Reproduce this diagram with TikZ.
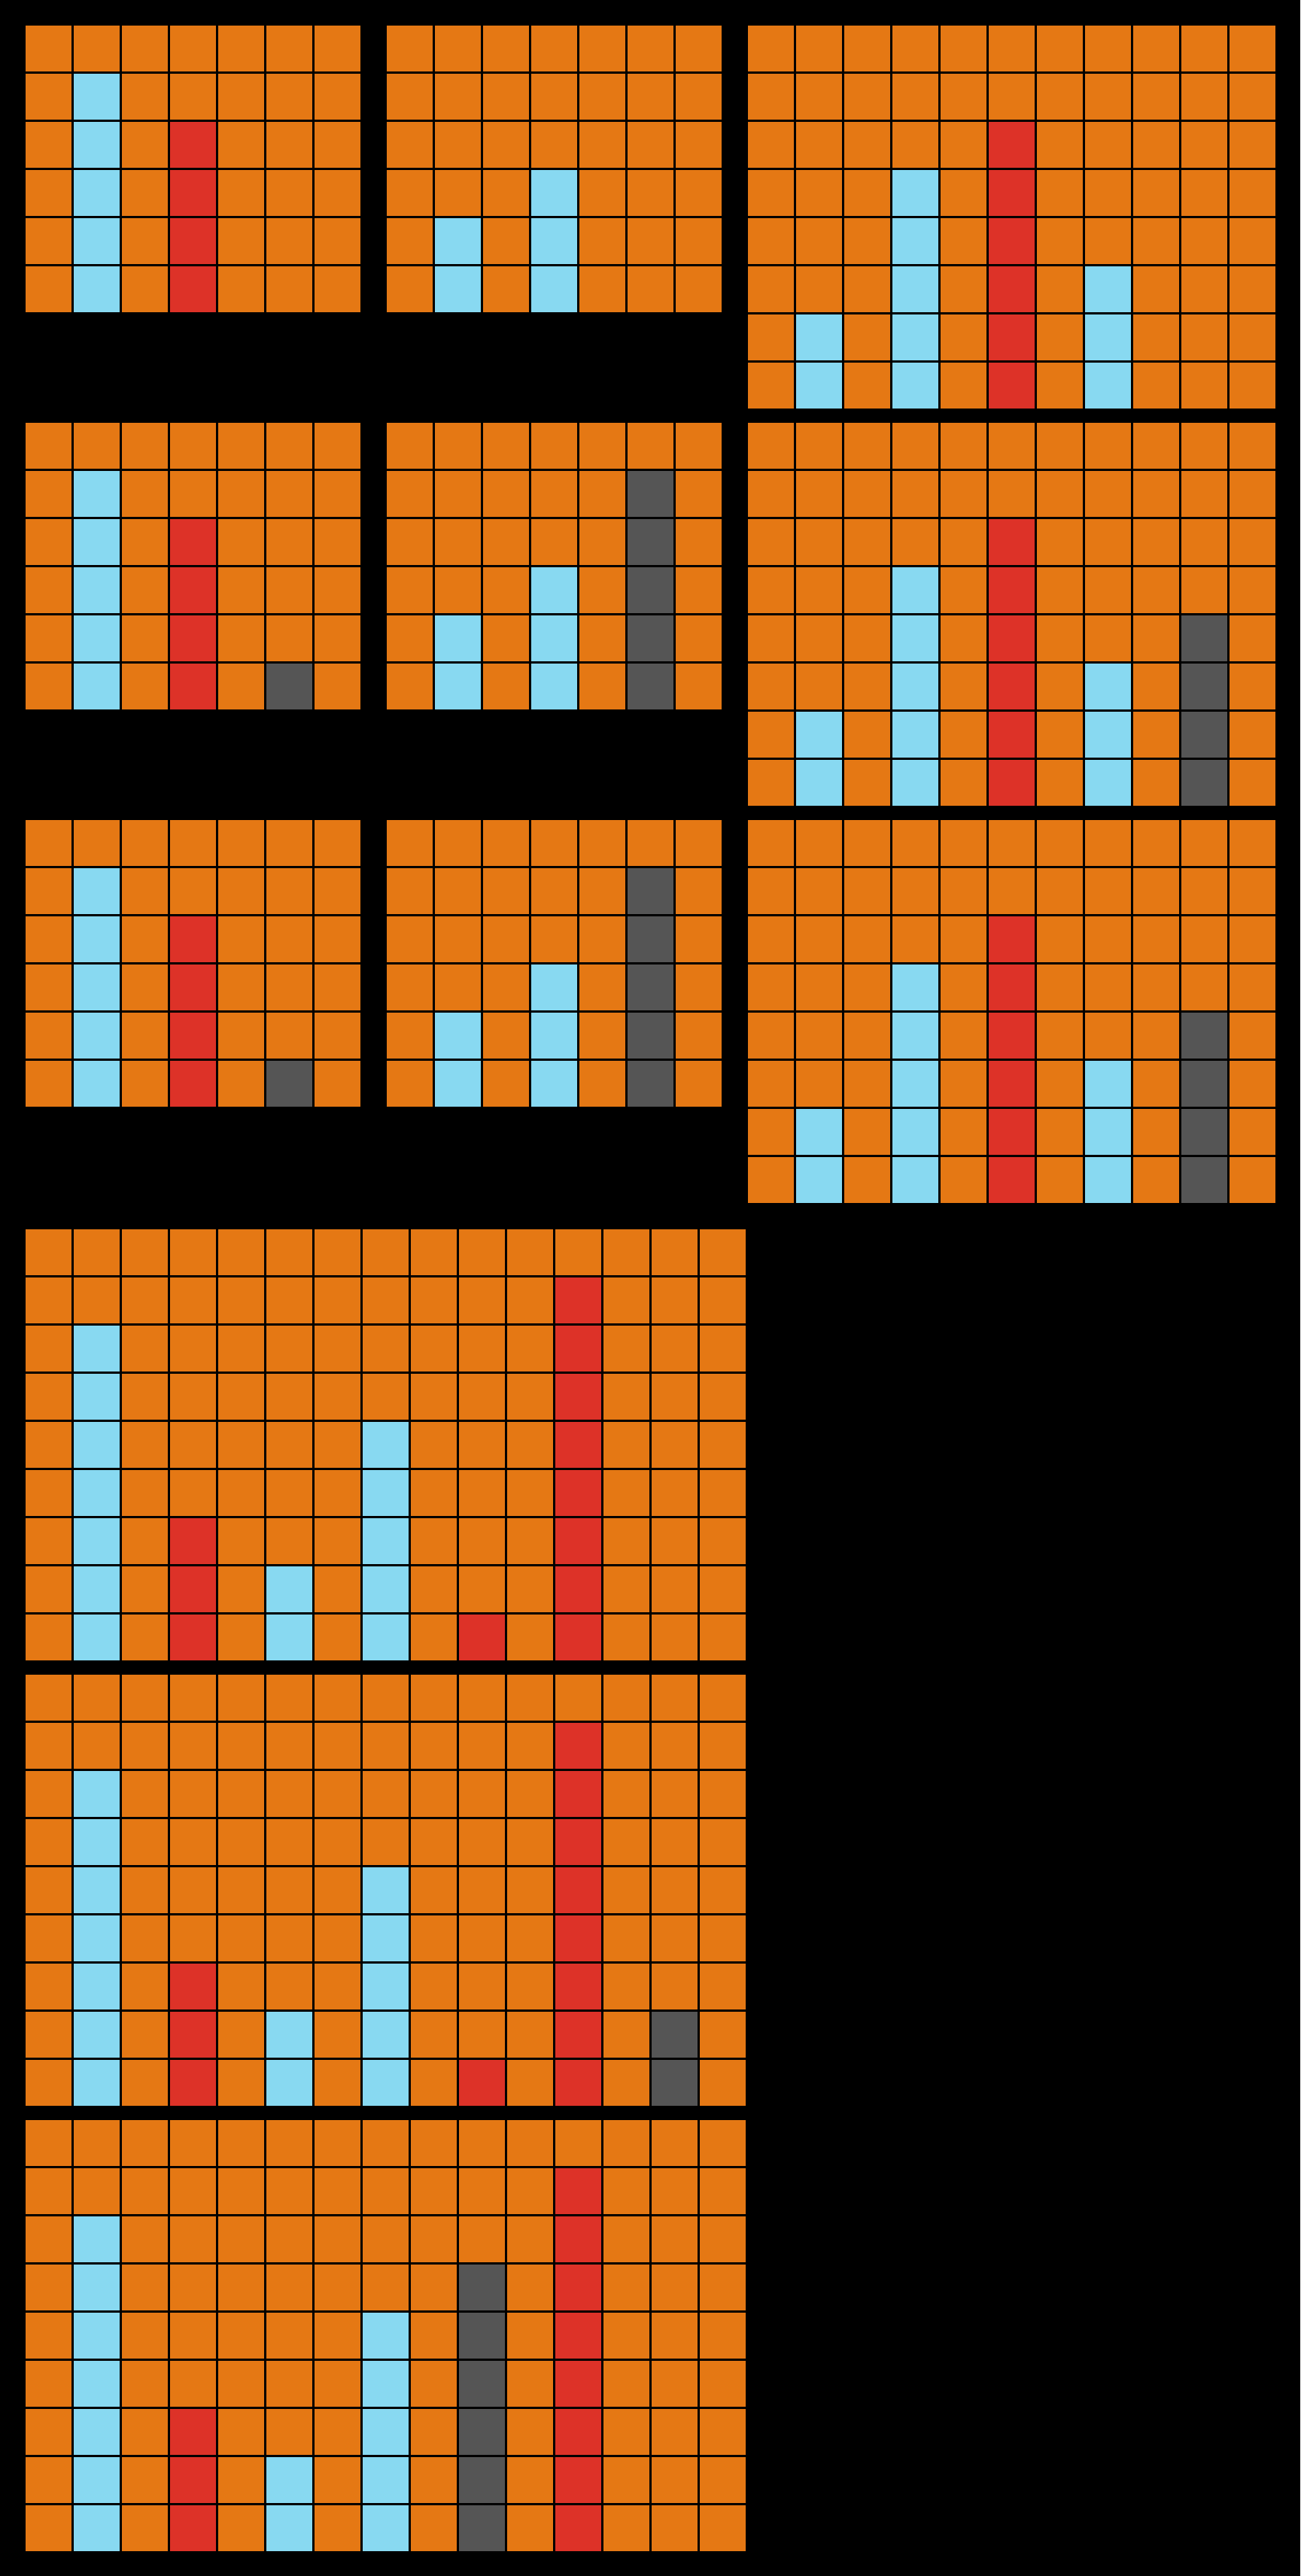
\documentclass[tikz,border=0pt]{standalone}
\usepackage{tikz}
\definecolor{CellOrange}{HTML}{E57814}
\definecolor{BarSky}{HTML}{88D9F1}
\definecolor{BarRed}{HTML}{DD3228}
\definecolor{BarGray}{HTML}{555555}
\tikzset{
  cellbox/.style={draw=black, line width=0.234mm, fill=CellOrange},
  barbox/.style={cellbox, fill=#1},
}
% #1,#2 top left corner, #3 columns, #4 rows, #5 bars as col/top/bottom/colour
\newcommand\gridpanel[5]{%
  \begin{scope}[shift={(#1,#2)}]
    \foreach \c in {1,...,#3}
      \foreach \r in {1,...,#4}
        \draw[cellbox] (\c-1,\r-1) rectangle (\c,\r);
    \foreach \c/\t/\b/\k in {#5}
      \foreach \r in {\t,...,\b}
        \draw[barbox=\k] (\c,\r) rectangle (\c+1,\r+1);
  \end{scope}}

\begin{document}
\begin{tikzpicture}[x=5mm, y=-5mm]
    \fill[black] (0,0) rectangle (27,53.5);
    % first row of panels
    \gridpanel{0.5078}{0.5078}{7}{6}{1/1/5/BarSky, 3/2/5/BarRed}
    \gridpanel{8.0078}{0.5078}{7}{6}{1/4/5/BarSky, 3/3/5/BarSky}
    \gridpanel{15.5078}{0.5078}{11}{8}{1/6/7/BarSky, 3/3/7/BarSky,
      5/2/7/BarRed, 7/5/7/BarSky}
    % second row: gray bars added
    \gridpanel{0.5078}{8.7578}{7}{6}{1/1/5/BarSky, 3/2/5/BarRed,
      5/5/5/BarGray}
    \gridpanel{8.0078}{8.7578}{7}{6}{1/4/5/BarSky, 3/3/5/BarSky,
      5/1/5/BarGray}
    \gridpanel{15.5078}{8.7578}{11}{8}{1/6/7/BarSky, 3/3/7/BarSky,
      5/2/7/BarRed, 7/5/7/BarSky, 9/4/7/BarGray}
    % third row
    \gridpanel{0.5078}{17.0078}{7}{6}{1/1/5/BarSky, 3/2/5/BarRed,
      5/5/5/BarGray}
    \gridpanel{8.0078}{17.0078}{7}{6}{1/4/5/BarSky, 3/3/5/BarSky,
      5/1/5/BarGray}
    \gridpanel{15.5078}{17.0078}{11}{8}{1/6/7/BarSky, 3/3/7/BarSky,
      5/2/7/BarRed, 7/5/7/BarSky, 9/4/7/BarGray}
    % wide panels
    \gridpanel{0.5078}{25.5078}{15}{9}{1/2/8/BarSky, 3/6/8/BarRed,
      5/7/8/BarSky, 7/4/8/BarSky, 9/8/8/BarRed, 11/1/8/BarRed}
    \gridpanel{0.5078}{34.7578}{15}{9}{1/2/8/BarSky, 3/6/8/BarRed,
      5/7/8/BarSky, 7/4/8/BarSky, 9/8/8/BarRed, 11/1/8/BarRed,
      13/7/8/BarGray}
    \gridpanel{0.5078}{44.0078}{15}{9}{1/2/8/BarSky, 3/6/8/BarRed,
      5/7/8/BarSky, 7/4/8/BarSky, 9/3/8/BarGray, 11/1/8/BarRed}
  \end{tikzpicture}
\end{document}
